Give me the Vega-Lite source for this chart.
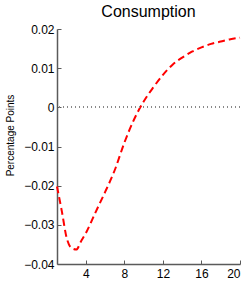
{
  "$schema": "https://vega.github.io/schema/vega-lite/v6.json",
  "autosize": "none",
  "width": 183,
  "height": 235,
  "padding": {"left": 57, "top": 29, "right": 9, "bottom": 17},
  "background": "white",
  "config": {
    "view": {"stroke": null},
    "font": "Liberation Sans",
    "axis": {"grid": false, "domainColor": "#5a5a5a", "domainWidth": 1.5, "tickColor": "#5a5a5a", "tickSize": -4, "labelFont": "Liberation Sans", "labelFontSize": 12, "labelColor": "#000000", "labelOverlap": false, "titleFont": "Liberation Sans", "titleFontWeight": "normal", "titleColor": "#000000"}
  },
  "title": {"text": "Consumption", "fontSize": 16, "fontWeight": "normal", "font": "Liberation Sans", "color": "#000000", "offset": 3},
  "data": {"values": [
    {"t": 1, "c": -0.0202},
    {"t": 1.5, "c": -0.0265},
    {"t": 2, "c": -0.0333},
    {"t": 2.5, "c": -0.0359},
    {"t": 3, "c": -0.0363},
    {"t": 3.5, "c": -0.0342},
    {"t": 4, "c": -0.0321},
    {"t": 5, "c": -0.0268},
    {"t": 6, "c": -0.0216},
    {"t": 7, "c": -0.0160},
    {"t": 8, "c": -0.0090},
    {"t": 9, "c": -0.0031},
    {"t": 10, "c": 0.0015},
    {"t": 11, "c": 0.0051},
    {"t": 12, "c": 0.0083},
    {"t": 13, "c": 0.0109},
    {"t": 14, "c": 0.0127},
    {"t": 15, "c": 0.0142},
    {"t": 16, "c": 0.0153},
    {"t": 17, "c": 0.0162},
    {"t": 18, "c": 0.0168},
    {"t": 19, "c": 0.0174},
    {"t": 20, "c": 0.0178}
  ]},
  "layer": [
    {
      "mark": {"type": "line", "color": "#ff0000", "strokeWidth": 2, "strokeDash": [7, 4], "interpolate": "monotone"},
      "encoding": {
        "x": {"field": "t", "type": "quantitative", "scale": {"domain": [1, 20], "nice": false, "zero": false}, "axis": {"title": null, "values": [4, 8, 12, 16, 20], "tickCount": 10, "labelPadding": 8, "labelOverlap": false}},
        "y": {"field": "c", "type": "quantitative", "scale": {"domain": [-0.04, 0.02], "nice": false}, "axis": {"title": "Percentage Points", "titleFontSize": 10, "titleX": -44, "titleY": 106, "titleAngle": -90, "titleAlign": "center", "titleBaseline": "alphabetic", "values": [-0.04, -0.03, -0.02, -0.01, 0, 0.01, 0.02], "tickCount": 10, "labelExpr": "datum.value == 0 ? '0' : format(datum.value, '.2f')", "labelPadding": 7, "labelOverlap": false}}
      }
    },
    {
      "mark": {"type": "rule", "color": "#8a8a8a", "strokeDash": [1, 3], "strokeWidth": 1},
      "encoding": {"y": {"datum": 0, "type": "quantitative"}}
    }
  ]
}
